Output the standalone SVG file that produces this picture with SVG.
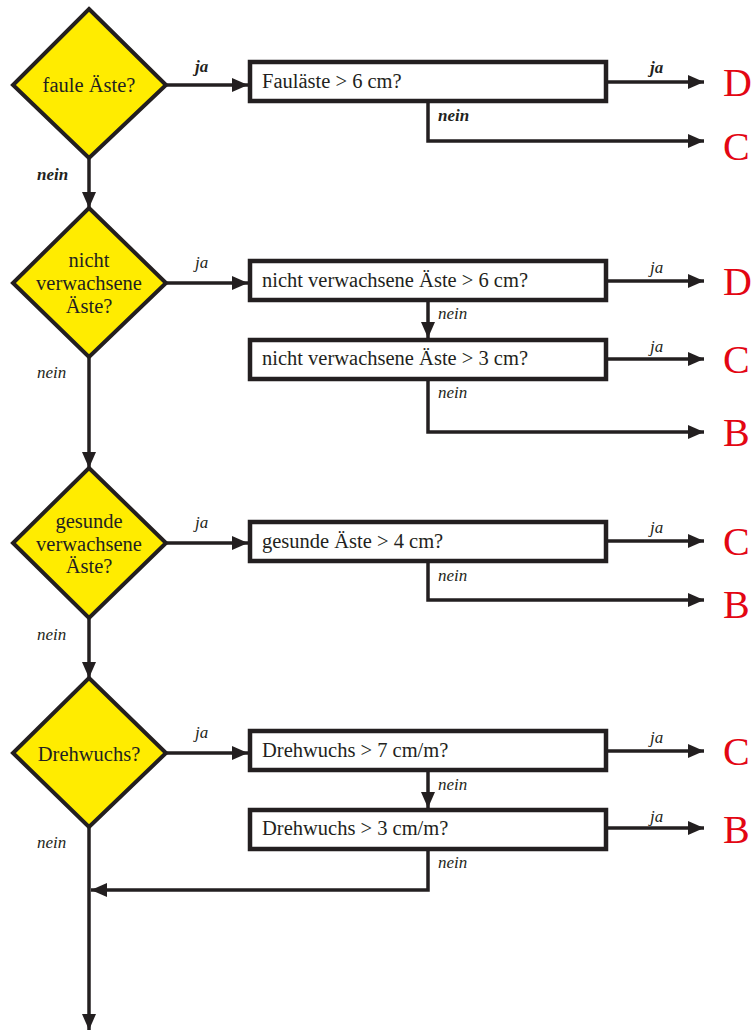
<svg xmlns="http://www.w3.org/2000/svg" width="754" height="1032" viewBox="0 0 754 1032">
<style>
.dia{fill:#ffec00;stroke:#231f20;stroke-width:4;stroke-linejoin:miter}
.box{fill:#fff;stroke:#231f20;stroke-width:4.5}
.t{font-family:'Liberation Serif','Times New Roman',Times,'DejaVu Serif',serif;font-size:20.5px;fill:#231f20}
.tc{text-anchor:middle}
.lbl{font-family:'Liberation Serif','Times New Roman',Times,'DejaVu Serif',serif;font-size:17px;font-style:italic;fill:#231f20}
.b{font-weight:bold}
.res{font-family:'Liberation Serif','Times New Roman',Times,'DejaVu Serif',serif;font-size:40px;fill:#e30613}
.c{fill:none;stroke:#231f20;stroke-width:3.5;marker-end:url(#ah)}
</style>
<defs>
<marker id="ah" markerUnits="userSpaceOnUse" markerWidth="17" markerHeight="15" refX="16" refY="7" orient="auto">
<path d="M0,0 L16,7 L0,14 z" fill="#231f20"/>
</marker>
</defs>
<g id="connectors">
<path class="c" d="M89,158 V208"/>
<path class="c" d="M89,357 V468"/>
<path class="c" d="M89,618 V678"/>
<path class="c" d="M89,827 V1030"/>
<path class="c" d="M166,85 H248"/>
<path class="c" d="M166,283 H248"/>
<path class="c" d="M166,543 H248"/>
<path class="c" d="M166,753 H248"/>
<path class="c" d="M607,82 H704"/>
<path class="c" d="M428,102 V141 H704"/>
<path class="c" d="M607,281 H704"/>
<path class="c" d="M428,300 V338"/>
<path class="c" d="M607,359 H704"/>
<path class="c" d="M428,380 V432 H704"/>
<path class="c" d="M607,541 H704"/>
<path class="c" d="M428,562 V600 H704"/>
<path class="c" d="M607,751 H704"/>
<path class="c" d="M428,771 V808"/>
<path class="c" d="M607,828 H704"/>
<path class="c" d="M428,849 V890 H91"/>
<text class="lbl b" x="195" y="72">ja</text>
<text class="lbl b" x="37" y="180">nein</text>
<text class="lbl b" x="650" y="73">ja</text>
<text class="lbl b" x="438" y="121">nein</text>
<text class="lbl" x="195" y="268">ja</text>
<text class="lbl" x="37" y="378">nein</text>
<text class="lbl" x="650" y="273">ja</text>
<text class="lbl" x="438" y="319">nein</text>
<text class="lbl" x="650" y="352">ja</text>
<text class="lbl" x="438" y="398">nein</text>
<text class="lbl" x="195" y="528">ja</text>
<text class="lbl" x="37" y="640">nein</text>
<text class="lbl" x="650" y="533">ja</text>
<text class="lbl" x="438" y="581">nein</text>
<text class="lbl" x="195" y="738">ja</text>
<text class="lbl" x="37" y="848">nein</text>
<text class="lbl" x="650" y="743">ja</text>
<text class="lbl" x="438" y="790">nein</text>
<text class="lbl" x="650" y="822">ja</text>
<text class="lbl" x="438" y="868">nein</text>
</g>
<g id="d1"><polygon class="dia" points="89,9 166,85 89,158 13,85"/><text class="t tc" x="89" y="92">faule Äste?</text></g>
<g id="d2"><polygon class="dia" points="89,208 166,283 89,357 13,283"/><text class="t tc" x="89" y="267">nicht</text><text class="t tc" x="89" y="290">verwachsene</text><text class="t tc" x="89" y="313">Äste?</text></g>
<g id="d3"><polygon class="dia" points="89,468 166,543 89,618 13,543"/><text class="t tc" x="89" y="528">gesunde</text><text class="t tc" x="89" y="551">verwachsene</text><text class="t tc" x="89" y="573">Äste?</text></g>
<g id="d4"><polygon class="dia" points="89,678 166,753 89,827 13,753"/><text class="t tc" x="89" y="761">Drehwuchs?</text></g>
<g id="b1"><rect class="box" x="250" y="62" width="356" height="39"/><text class="t" x="262" y="88">Fauläste &gt; 6 cm?</text></g>
<g id="b2"><rect class="box" x="250" y="261" width="356" height="39"/><text class="t" x="262" y="287">nicht verwachsene Äste &gt; 6 cm?</text></g>
<g id="b3"><rect class="box" x="250" y="340" width="356" height="39"/><text class="t" x="262" y="365">nicht verwachsene Äste &gt; 3 cm?</text></g>
<g id="b4"><rect class="box" x="250" y="522" width="356" height="39"/><text class="t" x="262" y="548">gesunde Äste &gt; 4 cm?</text></g>
<g id="b5"><rect class="box" x="250" y="731" width="356" height="39"/><text class="t" x="262" y="757">Drehwuchs &gt; 7 cm/m?</text></g>
<g id="b6"><rect class="box" x="250" y="810" width="356" height="39"/><text class="t" x="262" y="835">Drehwuchs &gt; 3 cm/m?</text></g>
<g id="r1"><text class="res" x="723" y="96">D</text></g>
<g id="r2"><text class="res" x="723" y="160">C</text></g>
<g id="r3"><text class="res" x="723" y="295">D</text></g>
<g id="r4"><text class="res" x="723" y="373">C</text></g>
<g id="r5"><text class="res" x="723" y="446">B</text></g>
<g id="r6"><text class="res" x="723" y="555">C</text></g>
<g id="r7"><text class="res" x="723" y="618">B</text></g>
<g id="r8"><text class="res" x="723" y="765">C</text></g>
<g id="r9"><text class="res" x="723" y="843">B</text></g>
</svg>
